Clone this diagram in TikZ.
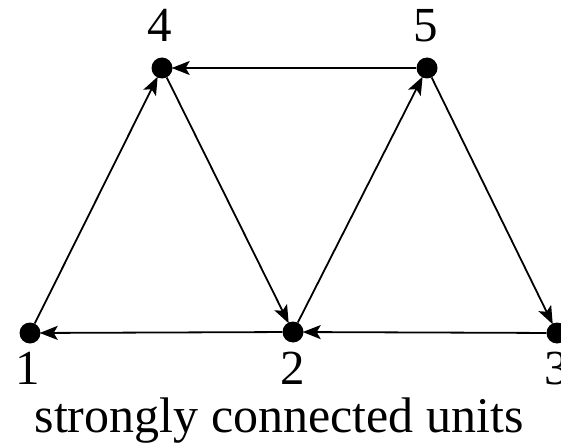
\documentclass[tikz,border=0pt]{standalone}
\usepackage{fontspec}
\setmainfont{Liberation Serif}
\usetikzlibrary{arrows.meta}
\begin{document}
\begin{tikzpicture}[x=1pt,y=-1pt,
  vtx/.style={circle,fill=black,inner sep=0pt,minimum size=21pt},
  lbl/.style={inner sep=0pt,anchor=base,font=\fontsize{49}{50}\selectfont},
  edge/.style={line width=1.8pt,-{Stealth[length=18pt,width=14pt,inset=4pt]},shorten >=-1pt}]
\useasboundingbox (0,0) rectangle (561,446);
\node[vtx] (n1) at (30,333) {};
\node[vtx] (n2) at (293,332) {};
\node[vtx] (n3) at (557,333) {};
\node[vtx] (n4) at (162,68) {};
\node[vtx] (n5) at (427,68) {};
\node[lbl] (l4) at (160,42) {4};
\node[lbl] (l5) at (426,42) {5};
\node[lbl] (l1) at (28,384) {1};
\node[lbl] (l2) at (293,384) {2};
\node[lbl] (l3) at (557,384) {3};
\node[lbl,font=\fontsize{50}{52}\selectfont] (cap) at (279,432) {strongly connected units};
\draw[edge] (n1) -- (n4);
\draw[edge] (n4) -- (n2);
\draw[edge] (n2) -- (n5);
\draw[edge] (n5) -- (n4);
\draw[edge] (n5) -- (n3);
\draw[edge] (n3) -- (n2);
\draw[edge] (n2) -- (n1);
\end{tikzpicture}
\end{document}
